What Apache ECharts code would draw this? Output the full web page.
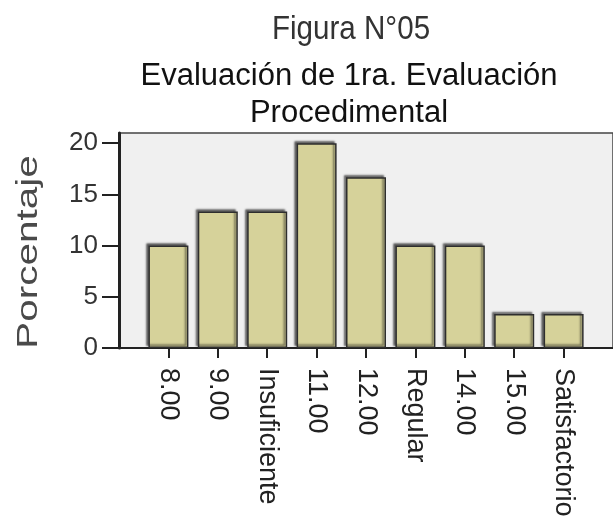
<!DOCTYPE html>
<html>
<head>
<meta charset="utf-8">
<script src="https://cdn.jsdelivr.net/npm/echarts@6/dist/echarts.min.js"></script>
<style>html,body{margin:0;padding:0;background:#fff;}#c{width:613px;height:523px;}</style>
</head>
<body>
<div id="c"></div>
<script>
const categories = ['8.00', '9.00', 'Insuficiente', '11.00', '12.00', 'Regular', '14.00', '15.00', 'Satisfactorio'];
const percentages = [10, 13.33, 13.33, 20, 16.67, 10, 10, 3.33, 3.33];
const yTicks = [0, 5, 10, 15, 20];
const titleText = 'Figura N°05';
const subtitleText = 'Evaluación de 1ra. Evaluación\nProcedimental';
const yName = 'Porcentaje';

const positions = categories.map((c, i) => i + 1);
const barData = percentages.map((v, i) => [positions[i], v]);

const FONT = 'Liberation Sans, Arial, sans-serif';
const chart = echarts.init(document.getElementById('c'), null, {renderer: 'canvas'});
chart.setOption({
  animation: false,
  backgroundColor: '#ffffff',
  graphic: [
    {type: 'text', x: 351, y: 13, scaleX: 0.87, z: 10,
     style: {text: titleText, align: 'center', verticalAlign: 'top', fontFamily: FONT, fontSize: 34, fill: '#333'}},
    {type: 'text', x: 349, y: 58, z: 10,
     style: {text: subtitleText, align: 'center', verticalAlign: 'top', fontFamily: FONT, fontSize: 31, lineHeight: 37, fill: '#111'}},
    {type: 'text', x: 29, y: 252, rotation: Math.PI / 2, scaleX: 1.35, z: 10,
     style: {text: yName, align: 'center', verticalAlign: 'middle', fontFamily: FONT, fontSize: 30, fill: '#4a4a4a'}}
  ],
  grid: {left: 119, right: -5, top: 133, bottom: 175, show: true, backgroundColor: '#f0f0f0', borderColor: '#444', borderWidth: 1.5},
  xAxis: {
    type: 'value', min: 0, max: 10,
    splitLine: {show: false},
    axisLine: {show: true, onZero: false, lineStyle: {color: '#222', width: 2}},
    axisTick: {show: true, customValues: positions, length: 10, lineStyle: {color: '#222', width: 2}},
    axisLabel: {customValues: positions, rotate: -90, margin: 20, padding: [12, 0, 0, 0],
      formatter: v => categories[Math.round(v) - 1] || '',
      fontFamily: FONT, fontSize: 27, color: '#222'}
  },
  yAxis: {
    type: 'value', min: 0, max: 21,
    splitLine: {show: false},
    axisLine: {show: true, lineStyle: {color: '#222', width: 3}},
    axisTick: {show: true, customValues: yTicks, length: 17, lineStyle: {color: '#222', width: 2}},
    axisLabel: {customValues: yTicks, margin: 21, fontFamily: FONT, fontSize: 26, color: '#333'}
  },
  series: [{
    type: 'bar', data: barData, barWidth: 40,
    itemStyle: {color: '#d6d29a', borderColor: '#2e2e2e', borderWidth: 1.5,
      shadowColor: 'rgba(0,0,0,0.55)', shadowBlur: 2, shadowOffsetX: -2, shadowOffsetY: -2}
  }]
});
</script>
</body>
</html>
